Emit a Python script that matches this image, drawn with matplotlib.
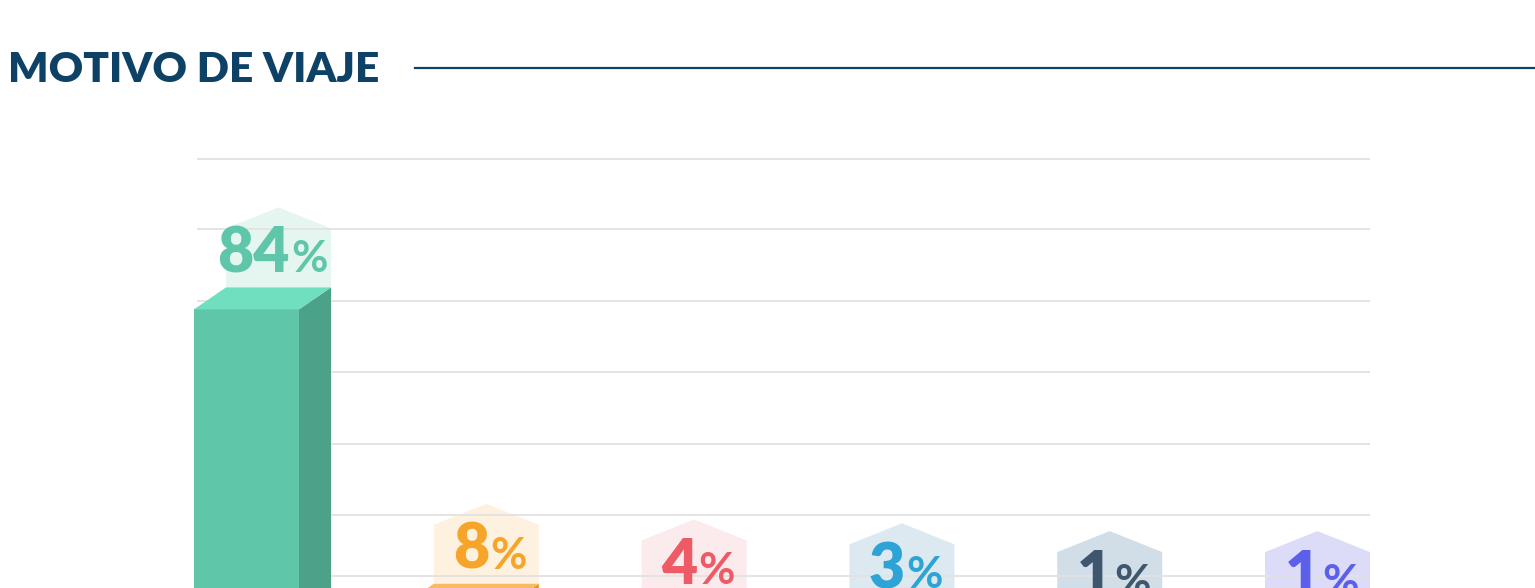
import matplotlib
matplotlib.use("Agg")
import matplotlib.pyplot as plt
from matplotlib.patches import Polygon
from matplotlib.lines import Line2D
from matplotlib.transforms import ScaledTranslation

# data
categories = ["Motivo 1", "Motivo 2", "Motivo 3", "Motivo 4", "Motivo 5", "Motivo 6"]
values = [84, 8, 4, 3, 1, 1]
labels = ["84", "8", "4", "3", "1", "1"]

# colours per bar: front, side, top, badge, label
front_colors = ["#5fc6a9", "#f6ab3c", "#ee5b66", "#2ea3d5", "#3f576e", "#5c5fe9"]
side_colors = ["#4ca189", "#e0951e", "#c9444e", "#2184b0", "#2f4356", "#4649c4"]
top_colors = ["#6fdfc0", "#f8bb62", "#f47a83", "#56b9e3", "#587189", "#7a7cf0"]
badge_colors = ["#e5f5f0", "#fef1df", "#fbebed", "#dde9f1", "#d1dee7", "#dcdcf9"]
label_colors = ["#5fc6a9", "#f6a52a", "#ee5b66", "#2ea3d5", "#3f576e", "#5c5fe9"]

grid_levels = [15.6, 31.3, 49.5, 67.9, 86.2, 104.5, 122.6]

TITLE = "MOTIVO DE VIAJE"
NAVY = "#0e4166"

W, H, DPI = 1535, 588, 100
PX_Y = 3.9          # pixels per % on the y axis
PX_X = 207.8        # pixels per category step
Y0 = 637            # pixel row of value 0 (below the visible area)
YMAX = 125

fig = plt.figure(figsize=(W / DPI, H / DPI), dpi=DPI)
fig.patch.set_facecolor("white")

ax_left, ax_right = 197, 1370
ax_top = Y0 - YMAX * PX_Y
ax = fig.add_axes([ax_left / W, (H - Y0) / H, (ax_right - ax_left) / W, (Y0 - ax_top) / H])
ax.set_xlim((ax_left - 246.5) / PX_X, (ax_right - 246.5) / PX_X)
ax.set_ylim(0, YMAX)
for s in ax.spines.values():
    s.set_visible(False)
ax.set_yticks(grid_levels)
ax.set_xticks([])
ax.tick_params(left=False, labelleft=False)
ax.yaxis.grid(True, color="#e2e2e2", lw=1.3)
ax.set_axisbelow(False)
for gl in ax.get_ygridlines():
    gl.set_zorder(1.5)

hw = 105 / PX_X / 2      # half width of front face
dx = 32 / PX_X           # depth, horizontal
dy = 22 / PX_Y           # depth, vertical
bh = 59 / PX_Y           # badge body height
ah = 21 / PX_Y           # badge roof height

xs = list(range(len(values)))
bars = ax.bar(xs, values, width=2 * hw, color=front_colors, zorder=3, linewidth=0)
for b in bars:
    b.set_clip_on(False)

for i, v in enumerate(values):
    side = [(i + hw, 0), (i + hw, v), (i + hw + dx, v + dy), (i + hw + dx, dy)]
    top = [(i - hw, v), (i + hw, v), (i + hw + dx, v + dy), (i - hw + dx, v + dy)]
    ax.add_patch(Polygon(side, closed=True, fc=side_colors[i], lw=0, zorder=3, clip_on=False))
    ax.add_patch(Polygon(top, closed=True, fc=top_colors[i], lw=0, zorder=3, clip_on=False))
    b0 = v + dy
    badge = [(i - hw + dx, b0), (i + hw + dx, b0), (i + hw + dx, b0 + bh),
             (i + dx, b0 + bh + ah), (i - hw + dx, b0 + bh)]
    ax.add_patch(Polygon(badge, closed=True, fc=badge_colors[i], lw=0, zorder=1, clip_on=False))

# labels: big number + smaller percent sign, centred on the badge
font = "Lato"
num_texts, pct_texts = [], []
for i, v in enumerate(values):
    base = v + dy + 15 / PX_Y
    t1 = ax.text(i + dx, base, labels[i], ha="left", va="baseline", fontsize=45,
                 fontweight="heavy", family=font, color=label_colors[i], zorder=4)
    t2 = ax.text(i + dx, base, "%", ha="left", va="baseline", fontsize=32,
                 fontweight="bold", family=font, color=label_colors[i], zorder=4)
    num_texts.append(t1)
    pct_texts.append(t2)

fig.canvas.draw()
r = fig.canvas.get_renderer()
gap = 1
for t1, t2 in zip(num_texts, pct_texts):
    w1 = t1.get_window_extent(r).width
    w2 = t2.get_window_extent(r).width
    total = w1 + gap + w2
    shift = -6 if len(t1.get_text()) > 1 else 4
    t1.set_transform(ax.transData + ScaledTranslation((shift - total / 2) / DPI, 0, fig.dpi_scale_trans))
    t2.set_transform(ax.transData + ScaledTranslation((shift - total / 2 + w1 + gap) / DPI, 0, fig.dpi_scale_trans))

# title and rule
fig.text(8 / W, 1 - 82 / H, TITLE, ha="left", va="baseline", fontsize=30.5,
         fontweight="heavy", family=font, color=NAVY)
fig.add_artist(Line2D([415 / W, 1.0], [1 - 68 / H, 1 - 68 / H], transform=fig.transFigure,
                      color=NAVY, lw=1.6))

fig.savefig("out.png", dpi=DPI)
